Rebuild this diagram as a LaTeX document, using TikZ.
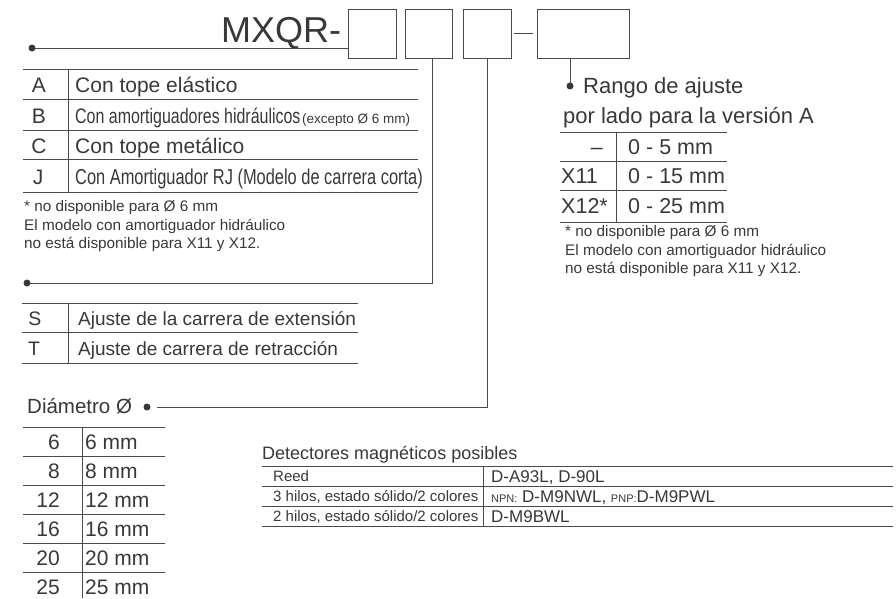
\documentclass[tikz,border=0pt]{standalone}
\usepackage{fontspec}
\setmainfont{Liberation Sans}
\newfontfamily\condfont[FakeStretch=0.76]{Liberation Sans}
\newcommand\myfs[1]{\fontsize{#1}{#1}\selectfont}
\definecolor{txt}{HTML}{383838}
\definecolor{ln}{HTML}{4a4a4a}
\begin{document}
\begin{tikzpicture}[x=1pt,y=-1pt,
  t/.style={anchor=base west, inner sep=0pt, text=txt},
  tr/.style={anchor=base east, inner sep=0pt, text=txt},
  tc/.style={anchor=base, inner sep=0pt, text=txt},
  box/.style={draw=ln, line width=0.9pt, inner sep=0pt},
  lead/.style={draw=ln, line width=0.8pt},
  rule/.style={draw=ln, line width=1pt},
  dot/.style={fill=txt}]
\useasboundingbox (0,0) rectangle (896,598);

% code
\node[t, font=\myfs{36}] (title) at (221,42) {MXQR-};
\node[box, minimum width=48, minimum height=49] (b1) at (372,33.5) {};
\node[box, minimum width=47, minimum height=49] (b2) at (428.5,33.5) {};
\node[box, minimum width=48, minimum height=49] (b3) at (487,33.5) {};
\node[box, minimum width=92, minimum height=49] (b4) at (583,33.5) {};
\draw[lead] ([xshift=3pt]b3.east) -- ([xshift=-4pt]b4.west);

% leaders
\coordinate (d1) at (32,48);
\coordinate (d2) at (27,283);
\coordinate (d3) at (157,407);
\coordinate (d3dot) at (147,407);
\coordinate (d4) at (570,86);
\draw[lead] (d1) -- (d1 -| b1.west);
\fill[dot] (d1) circle (3.5);
\draw[lead] ([xshift=3.5pt]b2.south) |- (d2);
\fill[dot] (d2) circle (3.5);
\draw[lead] (b3.south) |- (d3);
\fill[dot] (d3dot) circle (3.5);
\draw[lead] (d4 |- b4.south) -- (d4);
\fill[dot] (d4) circle (3.5);

% table A-J
\foreach \yy in {69,99,130,159,192} \draw[rule] (23,\yy) -- (418,\yy);
\draw[rule] (68,69) -- (68,192);
\node[tc, font=\myfs{21}] (lA) at (39,92.5) {A};
\node[tc, font=\myfs{21}] (lB) at (39,123) {B};
\node[tc, font=\myfs{21}] (lC) at (39,153) {C};
\node[tc, font=\myfs{21}] (lJ) at (38,184.5) {J};
\node[t, font=\myfs{21}] (tA) at (75,92.5) {Con tope elástico};
\node[t, font=\condfont\myfs{21}] (tB) at (75,123) {Con amortiguadores hidráulicos};
\node[t, font=\myfs{13.5}] (tBs) at (302,123) {(excepto Ø 6 mm)};
\node[t, font=\myfs{21}] (tC) at (75,153) {Con tope metálico};
\node[t, font=\condfont\myfs{21.6}] (tJ) at (75,184.5) {Con Amortiguador RJ (Modelo de carrera corta)};
\node[t, font=\myfs{15.3}] (fl1) at (24,211.5) {* no disponible para Ø 6 mm};
\node[t, font=\myfs{15.3}] (fl2) at (24,230) {El modelo con amortiguador hidráulico};
\node[t, font=\myfs{15.3}] (fl3) at (24,248.5) {no está disponible para X11 y X12.};

% table S/T
\foreach \yy in {303,332,363} \draw[rule] (22,\yy) -- (358,\yy);
\draw[rule] (68,303) -- (68,363);
\node[tc, font=\myfs{19.5}] (lS) at (35,325) {S};
\node[tc, font=\myfs{19.5}] (lT) at (34,355) {T};
\node[t, font=\myfs{19}] (tS) at (78,325) {Ajuste de la carrera de extensión};
\node[t, font=\myfs{19}] (tT) at (78,355) {Ajuste de carrera de retracción};

% diameter
\node[t, font=\myfs{20.5}] (diam) at (27,413.5) {Diámetro Ø};
\foreach \yy in {427,456,485,514,543,572} \draw[rule] (23,\yy) -- (165,\yy);
\draw[rule] (82,427) -- (82,598);
\foreach \n/\yy in {6/449,8/478,12/507,16/536,20/565,25/594}{
  \node[tr, font=\myfs{21}] (dn\n) at (60,\yy) {\n};
  \node[t, font=\myfs{21}] (dm\n) at (85,\yy) {\n\ mm};
}

% rango
\node[t, font=\myfs{22}] (rg1) at (583,93) {Rango de ajuste};
\node[t, font=\myfs{22}] (rg2) at (563,123) {por lado para la versión A};
\foreach \yy in {132,161,190,222} \draw[rule] (560,\yy) -- (727,\yy);
\draw[rule] (616,132) -- (616,222);
\node[tr, font=\myfs{21.5}] (r1) at (603,154) {–};
\node[t, font=\myfs{21.5}] (r2) at (561,183) {X11};
\node[t, font=\myfs{21.5}] (r3) at (561,213) {X12*};
\node[t, font=\myfs{21.5}] (v1) at (628,154) {0 - 5 mm};
\node[t, font=\myfs{21.5}] (v2) at (628,183) {0 - 15 mm};
\node[t, font=\myfs{21.5}] (v3) at (628,213) {0 - 25 mm};
\node[t, font=\myfs{15.3}] (fr1) at (565,236.5) {* no disponible para Ø 6 mm};
\node[t, font=\myfs{15.3}] (fr2) at (565,255) {El modelo con amortiguador hidráulico};
\node[t, font=\myfs{15.3}] (fr3) at (565,273.5) {no está disponible para X11 y X12.};

% detectores
\node[t, font=\myfs{18}] (det) at (262,459) {Detectores magnéticos posibles};
\foreach \yy in {466,486,506,526} \draw[rule] (262,\yy) -- (893,\yy);
\draw[rule] (483,466) -- (483,526);
\node[t, font=\myfs{15}] (s1) at (273,481.5) {Reed};
\node[t, font=\myfs{15}] (s2) at (273,501.5) {3 hilos, estado sólido/2 colores};
\node[t, font=\myfs{15}] (s3) at (273,521.5) {2 hilos, estado sólido/2 colores};
\node[t, font=\myfs{17}] (m1) at (491,482) {D-A93L, D-90L};
\node[t, font=\myfs{17}] (m2) at (491,502) {{\myfs{11}NPN:} D-M9NWL, {\myfs{11}PNP:}D-M9PWL};
\node[t, font=\myfs{17}] (m3) at (491,522) {D-M9BWL};
\end{tikzpicture}
\end{document}
